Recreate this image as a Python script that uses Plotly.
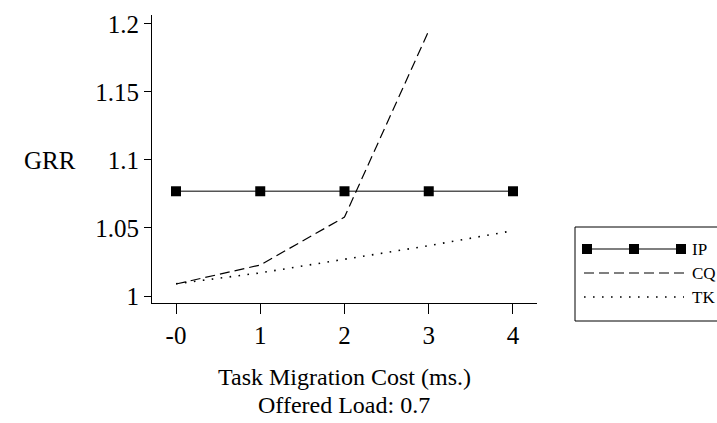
import plotly.graph_objects as go

x_vals = [0, 1, 2, 3, 4]
x_ticktext = ["-0", "1", "2", "3", "4"]
ip = [1.077, 1.077, 1.077, 1.077, 1.077]
cq_x = [0, 1, 2, 3]
cq = [1.0088, 1.0228, 1.058, 1.195]
tk = [1.009, 1.017, 1.027, 1.037, 1.048]
y_ticks = [1, 1.05, 1.1, 1.15, 1.2]
y_ticktext = ["1", "1.05", "1.1", "1.15", "1.2"]

FONT = "'Liberation Serif', 'Times New Roman', Times, serif"
FS = 25
W, H = 717, 423
L, R, T, B = 152, 180, 15, 120
pw, ph = W - L - R, H - T - B

def px(x):
    return (x - L) / pw

def py(y):
    return (H - B - y) / ph

fig = go.Figure()
fig.add_trace(go.Scatter(x=x_vals, y=ip, mode="lines+markers",
                         line=dict(color="#555555", width=1.6),
                         marker=dict(symbol="square", size=10, color="black"),
                         name="IP", cliponaxis=False))
fig.add_trace(go.Scatter(x=cq_x, y=cq, mode="lines",
                         line=dict(color="black", width=1.2, dash="10px,5px"),
                         name="CQ"))
fig.add_trace(go.Scatter(x=x_vals, y=tk, mode="lines",
                         line=dict(color="black", width=1.6, dash="1.6px,7.4px"),
                         name="TK"))

shapes = []
annotations = []
shapes.append(dict(type="rect", xref="paper", yref="paper",
                   x0=px(575), x1=px(722), y0=py(321), y1=py(227),
                   line=dict(color="black", width=1), fillcolor="white", layer="above"))
leg = [("IP", 249, dict(color="black", width=1.2)),
       ("CQ", 273, dict(color="black", width=1.2, dash="10px,5px")),
       ("TK", 297, dict(color="black", width=1.6, dash="1.6px,7.4px"))]
for name, yy, ln in leg:
    shapes.append(dict(type="line", xref="paper", yref="paper",
                       x0=px(584), x1=px(684), y0=py(yy), y1=py(yy), line=ln, layer="above"))
    annotations.append(dict(text=name, xref="paper", yref="paper", x=px(690), y=py(yy),
                            xanchor="left", yanchor="middle", showarrow=False,
                            font=dict(family=FONT, size=17, color="black")))
for mx in [587, 634, 681]:
    shapes.append(dict(type="rect", xref="paper", yref="paper",
                       x0=px(mx - 5), x1=px(mx + 5), y0=py(254), y1=py(244),
                       line=dict(width=0), fillcolor="black", layer="above"))

annotations.append(dict(text="GRR", xref="paper", yref="paper", x=px(50), y=py(160),
                        xanchor="center", yanchor="middle", showarrow=False,
                        font=dict(family=FONT, size=FS, color="black")))
annotations.append(dict(text="Task Migration Cost (ms.)", xref="paper", yref="paper",
                        x=px(344), y=py(377), xanchor="center", yanchor="middle", showarrow=False,
                        font=dict(family=FONT, size=24, color="black")))
annotations.append(dict(text="Offered Load: 0.7", xref="paper", yref="paper",
                        x=px(344), y=py(405), xanchor="center", yanchor="middle", showarrow=False,
                        font=dict(family=FONT, size=24, color="black")))

fig.update_layout(
    width=W, height=H,
    margin=dict(l=L, r=R, t=T, b=B, pad=0),
    paper_bgcolor="white", plot_bgcolor="white",
    showlegend=False,
    shapes=shapes, annotations=annotations,
    font=dict(family=FONT, size=FS, color="black"),
)
fig.update_xaxes(range=[-0.285, 4.285], tickvals=x_vals, ticktext=x_ticktext,
                 showgrid=False, zeroline=False, showline=True, linecolor="black", linewidth=1,
                 ticks="outside", ticklen=10, tickcolor="black", tickwidth=1,
                 tickfont=dict(family=FONT, size=FS, color="black"))
fig.update_yaxes(range=[0.99485, 1.2066], tickvals=y_ticks, ticktext=y_ticktext,
                 showgrid=False, zeroline=False, showline=True, linecolor="black", linewidth=1,
                 ticks="outside", ticklen=7, tickcolor="black", tickwidth=1,
                 tickfont=dict(family=FONT, size=FS, color="black"))

fig.write_html("out.html")
